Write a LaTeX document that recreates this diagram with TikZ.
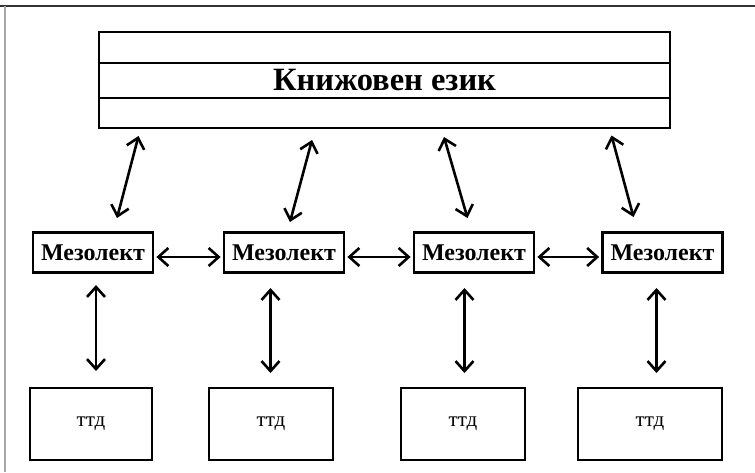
\documentclass[tikz,border=0pt]{standalone}
\usepackage{fontspec}
\setmainfont{Liberation Serif}
\usetikzlibrary{arrows.meta}
\begin{document}
\begin{tikzpicture}[x=1pt,y=-1pt,
  box/.style={draw, line width=2.8pt, inner sep=0pt, anchor=center},
  meso/.style={box, minimum width=120pt, minimum height=40pt, font=\bfseries\fontsize{24}{24}\selectfont},
  ttd/.style={box, minimum height=72pt, font=\fontsize{21}{21}\selectfont},
  arr/.style={line width=2.6pt, {Straight Barb[length=10pt,width=18pt,line width=2.6pt]}-{Straight Barb[length=10pt,width=18pt,line width=2.6pt]}}
]
\useasboundingbox (0,0) rectangle (755,472);
\draw[black!80, line width=1.2pt] (0,6) -- (755,6);
\draw[black!35, line width=1.2pt] (5,6) -- (5,472);

\node[box, minimum width=571pt, minimum height=96pt, font=\bfseries\fontsize{32.5}{32.5}\selectfont] (top) at (384.5,80) {Книжовен език};
\draw[line width=1.6pt] (top.west |- 0,63) -- (top.east |- 0,63);
\draw[line width=1.6pt] (top.west |- 0,98) -- (top.east |- 0,98);

\node[meso] (m1) at (93,252.5) {Мезолект};
\node[meso] (m2) at (284,252.5) {Мезолект};
\node[meso] (m3) at (474,252.5) {Мезолект};
\node[meso] (m4) at (662.5,252.5) {Мезолект};

\node[ttd, minimum width=122pt] (t1) at (91,424) {ттд};
\node[ttd, minimum width=124pt] (t2) at (271,424) {ттд};
\node[ttd, minimum width=124pt] (t3) at (463,424) {ттд};
\node[ttd, minimum width=144pt] (t4) at (650,424) {ттд};

\coordinate (d1a) at (138.5,136);
\coordinate (d1b) at (117,218);
\coordinate (d2a) at (312,140);
\coordinate (d2b) at (290,222);
\coordinate (d3a) at (444,137);
\coordinate (d3b) at (467.5,218);
\coordinate (d4a) at (611.5,135.5);
\coordinate (d4b) at (633.5,217);
\draw[arr] (d1a) -- (d1b);
\draw[arr] (d2a) -- (d2b);
\draw[arr] (d3a) -- (d3b);
\draw[arr] (d4a) -- (d4b);

\draw[arr] ([yshift=-4.5pt,xshift=2pt]m1.east) -- ([yshift=-4.5pt,xshift=-2pt]m2.west);
\draw[arr] ([yshift=-4.5pt,xshift=2pt]m2.east) -- ([yshift=-4.5pt,xshift=-2pt]m3.west);
\draw[arr] ([yshift=-4.5pt,xshift=2pt]m3.east) -- ([yshift=-4.5pt,xshift=-2pt]m4.west);

\coordinate (v1a) at (96,285);
\coordinate (v1b) at (96,371);
\coordinate (v2a) at (270.5,288);
\coordinate (v2b) at (270.5,373);
\coordinate (v3a) at (464.5,288);
\coordinate (v3b) at (464.5,373);
\coordinate (v4a) at (656.5,288);
\coordinate (v4b) at (656.5,373);
\draw[arr] (v1a) -- (v1b);
\draw[arr] (v2a) -- (v2b);
\draw[arr] (v3a) -- (v3b);
\draw[arr] (v4a) -- (v4b);
\end{tikzpicture}
\end{document}
